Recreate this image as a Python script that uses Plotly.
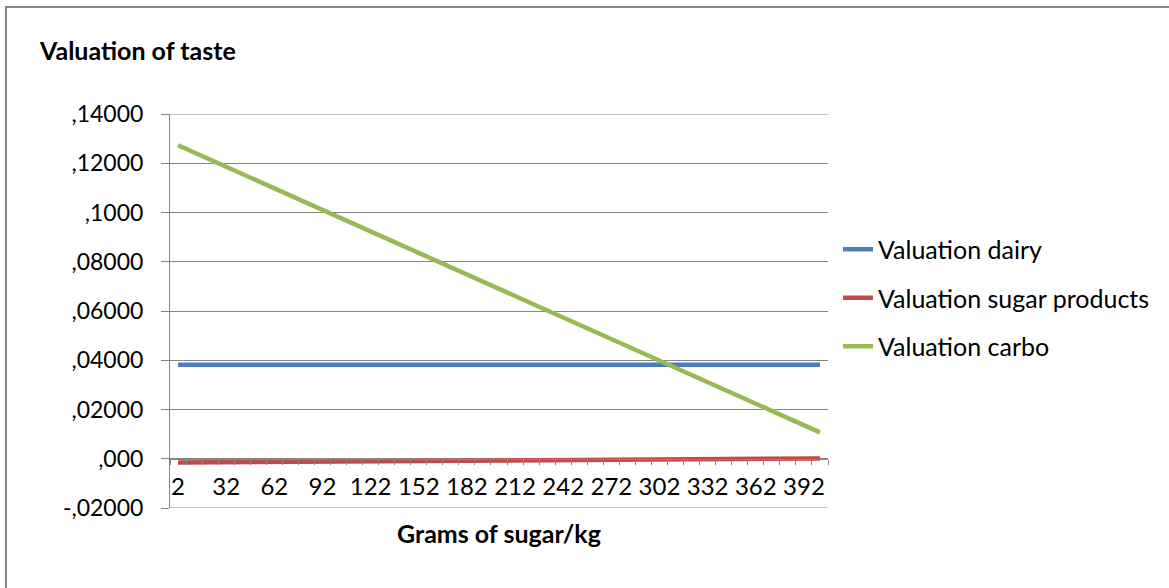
import plotly.graph_objects as go

# Grams of sugar per kg (category axis values)
sugar_grams = [2, 12, 22, 32, 42, 52, 62, 72, 82, 92, 102, 112, 122, 132, 142,
               152, 162, 172, 182, 192, 202, 212, 222, 232, 242, 252, 262, 272,
               282, 292, 302, 312, 322, 332, 342, 352, 362, 372, 382, 392, 402]

valuation_dairy = [0.0382] * 41

valuation_sugar_products = [
    -0.00150, -0.00146, -0.00142, -0.00138, -0.00134, -0.00130, -0.00126,
    -0.00122, -0.00118, -0.00114, -0.00110, -0.00106, -0.00102, -0.00098,
    -0.00094, -0.00090, -0.00086, -0.00082, -0.00078, -0.00074, -0.00070,
    -0.00066, -0.00062, -0.00058, -0.00054, -0.00050, -0.00046, -0.00042,
    -0.00038, -0.00034, -0.00030, -0.00026, -0.00022, -0.00018, -0.00014,
    -0.00010, -0.00006, -0.00002, 0.00002, 0.00006, 0.00010]

valuation_carbo = [
    0.1273, 0.1244, 0.1215, 0.1186, 0.1157, 0.1127, 0.1098, 0.1069, 0.1040,
    0.1011, 0.0982, 0.0952, 0.0923, 0.0894, 0.0865, 0.0836, 0.0807, 0.0777,
    0.0748, 0.0719, 0.0690, 0.0661, 0.0632, 0.0603, 0.0573, 0.0544, 0.0515,
    0.0486, 0.0457, 0.0428, 0.0398, 0.0369, 0.0340, 0.0311, 0.0282, 0.0253,
    0.0224, 0.0194, 0.0165, 0.0136, 0.0107]

x_tick_labels = [2, 32, 62, 92, 122, 152, 182, 212, 242, 272, 302, 332, 362, 392]
# category boundaries, where the small axis tick marks sit
x_category_edges = [-3 + 10 * k for k in range(42)]

y_tick_values = [-0.02, 0.0, 0.02, 0.04, 0.06, 0.08, 0.10, 0.12, 0.14]
y_tick_labels = ["-,02000", ",000", ",02000", ",04000", ",06000", ",08000",
                 ",1000", ",12000", ",14000"]

series = [
    ("Valuation dairy", valuation_dairy, "#4A7EBB"),
    ("Valuation sugar products", valuation_sugar_products, "#BE4B48"),
    ("Valuation carbo", valuation_carbo, "#98B954"),
]

FONT = "Lato"
GRID = "#868686"

fig = go.Figure()
for name, values, color in series:
    fig.add_trace(go.Scatter(
        x=sugar_grams, y=values, name=name, mode="lines",
        legendgroup=name,
        line=dict(color=color, width=4.5),
    ))

# plot area spans x 170..828 px, y 114..507.6 px
L, R, T, B = 170, 341, 114, 80.4
W = 1169 - L - R
H = 588 - T - B


def px_x(px):
    return (px - L) / W


def px_y(py):
    return (588 - B - py) / H


fig.update_layout(
    width=1169, height=588,
    margin=dict(l=L, r=R, t=T, b=B, pad=0),
    paper_bgcolor="white", plot_bgcolor="white",
    font=dict(family=FONT, size=22, color="black"),
    showlegend=True,
    legend=dict(
        x=px_x(838), y=px_y(226.5), xanchor="left", yanchor="top",
        font=dict(family=FONT, size=25, color="black"),
        tracegroupgap=13, traceorder="grouped",
        bgcolor="rgba(0,0,0,0)", borderwidth=0,
    ),
    xaxis=dict(
        type="linear", range=[-3, 407],
        anchor="free", position=px_y(458.3),
        tickmode="array", tickvals=x_tick_labels,
        ticktext=[str(v) for v in x_tick_labels],
        ticks="", ticklabelstandoff=7,
        tickfont=dict(family=FONT, size=24, color="black"),
        minor=dict(tickmode="array", tickvals=x_category_edges,
                   ticks="outside", ticklen=5, tickcolor=GRID, tickwidth=1,
                   showgrid=False),
        showline=True, linecolor=GRID, linewidth=1,
        showgrid=False, zeroline=False,
    ),
    yaxis=dict(
        range=[-0.02, 0.14],
        tickmode="array", tickvals=y_tick_values, ticktext=y_tick_labels,
        ticks="outside", ticklen=8, tickcolor=GRID, tickwidth=1,
        ticklabelstandoff=13,
        tickfont=dict(family=FONT, size=23, color="black"),
        showline=True, linecolor=GRID, linewidth=1,
        showgrid=True, gridcolor=GRID, gridwidth=1,
        zeroline=False,
    ),
)

# gridlines at the two ends of the value axis
for yv in (y_tick_values[0], y_tick_values[-1]):
    fig.add_shape(
        type="line", xref="paper", yref="y", x0=0, x1=1, y0=yv, y1=yv,
        line=dict(color=GRID, width=1), layer="below",
    )

# chart title and axis title
fig.add_annotation(
    text="<b>Valuation of taste</b>", xref="paper", yref="paper",
    x=px_x(37), y=px_y(50), xanchor="left", yanchor="middle",
    showarrow=False, font=dict(family=FONT, size=25, color="black"),
)
fig.add_annotation(
    text="<b>Grams of sugar/kg</b>", xref="paper", yref="paper",
    x=0.5, y=px_y(533), xanchor="center", yanchor="middle",
    showarrow=False, font=dict(family=FONT, size=25, color="black"),
)

# chart frame
fig.add_shape(
    type="rect", xref="paper", yref="paper",
    x0=px_x(6), x1=px_x(1185), y0=px_y(600), y1=px_y(7),
    line=dict(color="#878787", width=2), fillcolor="rgba(0,0,0,0)",
    layer="below",
)

fig.write_html("out.html")
